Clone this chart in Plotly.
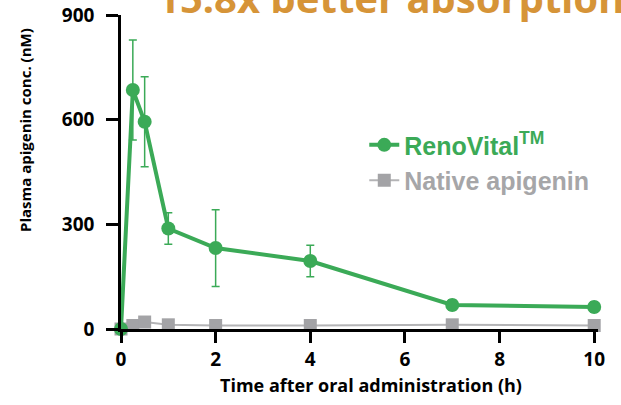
import plotly.graph_objects as go

time_h = [0, 0.25, 0.5, 1, 2, 4, 7, 10]
renovital = [0, 685, 594, 288, 232, 195, 69, 63]
renovital_err = [0, 143, 129, 45, 110, 45, 15, 15]
native = [0, 10, 20, 12, 10, 10, 12, 10]
native_err = [0, 3, 5, 3, 3, 3, 3, 3]
x_ticks = [0, 2, 4, 6, 8, 10]
y_ticks = [0, 300, 600, 900]

GREEN = "#3BAA57"
GRAY = "#A3A3A6"

fig = go.Figure()
fig.add_trace(go.Scatter(
    x=time_h, y=native, mode="lines+markers",
    name="<span style='color:#A6A6A8'>Native apigenin</span>",
    line=dict(color="#B4B4B6", width=2),
    marker=dict(symbol="square", size=13, color=GRAY),
    error_y=dict(type="data", array=native_err, color=GRAY, thickness=1.5, width=4),
    cliponaxis=False,
))
fig.add_trace(go.Scatter(
    x=time_h, y=renovital, mode="lines+markers",
    name="<span style='color:#3BAA57'>RenoVital<sup>TM</sup></span>",
    line=dict(color=GREEN, width=4),
    marker=dict(symbol="circle", size=14, color=GREEN),
    error_y=dict(type="data", array=renovital_err, color=GREEN, thickness=1.5, width=4),
    cliponaxis=False,
))

fig.update_layout(
    width=621, height=405,
    margin=dict(l=121, r=23, t=15, b=76, autoexpand=False),
    plot_bgcolor="white", paper_bgcolor="white",
    showlegend=True,
    legend=dict(
        x=0.51, y=0.53, xanchor="left", yanchor="middle",
        traceorder="reversed",
        font=dict(family="Liberation Sans", size=25, color=GRAY, weight="bold"),
        bgcolor="rgba(0,0,0,0)", itemwidth=30, tracegroupgap=0,
    ),
    xaxis=dict(
        range=[0, 10.08], tickvals=x_ticks, showgrid=False, zeroline=False,
        showline=True, linecolor="black", linewidth=2.5, automargin=False,
        ticks="outside", ticklen=11, tickwidth=2.5, tickcolor="black",
        ticklabelstandoff=0,
        tickfont=dict(family="Open Sans", size=19, color="black", weight="bold"),
    ),
    yaxis=dict(
        range=[0, 900], tickvals=y_ticks, showgrid=False, zeroline=False,
        showline=True, linecolor="black", linewidth=2.5, automargin=False,
        ticks="outside", ticklen=12, tickwidth=2.5, tickcolor="black",
        ticklabelstandoff=8,
        tickfont=dict(family="Open Sans", size=19, color="black", weight="bold"),
    ),
)

# axis titles placed as in the reference (offset from plot centre)
fig.add_annotation(
    text="Plasma apigenin conc. (nM)", textangle=-90,
    xref="paper", yref="paper", x=(25 - 121) / 477, y=(329 - 130) / 314,
    xanchor="center", yanchor="middle", showarrow=False,
    font=dict(family="Open Sans", size=15, color="black", weight="bold"),
)
fig.add_annotation(
    text="Time after oral administration (h)",
    xref="paper", yref="paper", x=(371 - 121) / 477, y=(329 - 385) / 314,
    xanchor="center", yanchor="middle", showarrow=False,
    font=dict(family="Open Sans", size=18, color="black", weight="bold"),
)

fig.add_annotation(
    text="<b>15.8x better absorption</b>",
    xref="paper", yref="paper", x=(155 - 121) / 477, y=1 + 17 / 314,
    xanchor="left", yanchor="middle",
    showarrow=False, font=dict(family="Noto Sans", size=40, color="#D69438"),
)

fig.write_html("out.html", post_script="document.body.style.margin='0';",
               config={"displayModeBar": False})
